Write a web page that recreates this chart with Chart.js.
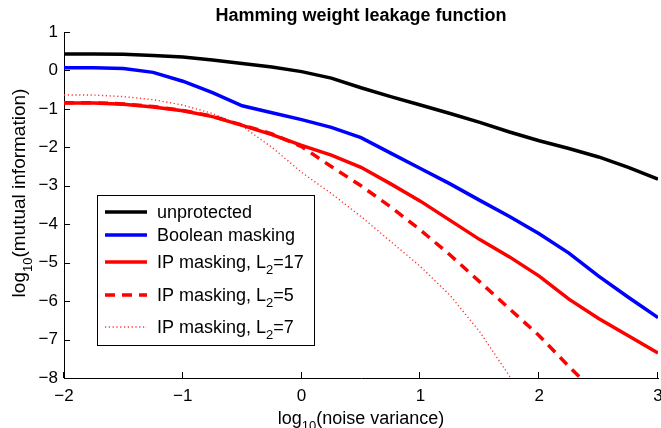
<!DOCTYPE html>
<html>
<head>
<meta charset="utf-8">
<script src="https://cdn.jsdelivr.net/npm/chart.js@4.4.1/dist/chart.umd.min.js"></script>
<style>
  html, body { margin: 0; padding: 0; background: #fff; }
  #wrap { width: 661px; height: 428px; }
</style>
</head>
<body>
<div id="wrap"><canvas id="chart" width="661" height="428"></canvas></div>
<script>
// log10(noise variance)
const noiseLog = [-2, -1.75, -1.5, -1.25, -1, -0.75, -0.5, -0.25, 0, 0.25, 0.5, 0.75, 1, 1.25, 1.5, 1.75, 2, 2.25, 2.5, 2.75, 3];

// log10(mutual information) per scheme
const unprotected = [0.43, 0.43, 0.42, 0.39, 0.35, 0.27, 0.18, 0.09, -0.03, -0.2, -0.45, -0.68, -0.9, -1.12, -1.35, -1.6, -1.83, -2.03, -2.25, -2.52, -2.83];
const booleanMasking = [0.07, 0.07, 0.05, -0.05, -0.28, -0.58, -0.92, -1.1, -1.28, -1.48, -1.75, -2.15, -2.55, -2.95, -3.38, -3.8, -4.25, -4.75, -5.35, -5.9, -6.43];
const ipL17 = [-0.85, -0.85, -0.88, -0.95, -1.05, -1.2, -1.43, -1.67, -1.95, -2.2, -2.52, -2.95, -3.4, -3.9, -4.4, -4.85, -5.35, -5.95, -6.45, -6.9, -7.35];
const ipL5 = [-0.84, -0.84, -0.87, -0.94, -1.04, -1.19, -1.42, -1.65, -1.98, -2.5, -3.0, -3.55, -4.15, -4.8, -5.5, -6.2, -6.9, -7.7, -8.45];
const ipL7 = [-0.64, -0.64, -0.68, -0.76, -0.9, -1.12, -1.45, -2.0, -2.65, -3.2, -3.8, -4.45, -5.1, -5.85, -6.8, -7.95, -9.0];

const xTicks = [-2, -1, 0, 1, 2, 3];
const yTicks = [1, 0, -1, -2, -3, -4, -5, -6, -7, -8];

// legend labels: [text, subscript?] parts
const legendLabels = [
  [["unprotected", false]],
  [["Boolean masking", false]],
  [["IP masking, L", false], ["2", true], ["=17", false]],
  [["IP masking, L", false], ["2", true], ["=5", false]],
  [["IP masking, L", false], ["2", true], ["=7", false]]
];

const FONT = '"Liberation Sans", Arial, Helvetica, sans-serif';
const minus = v => String(v).replace("-", "\u2212");
const pts = arr => arr.map((v, i) => ({ x: noiseLog[i], y: v }));

function richWidth(ctx, parts, size) {
  let w = 0;
  parts.forEach(([t, sub]) => {
    ctx.font = (sub ? Math.round(size * 0.7) : size) + "px " + FONT;
    w += ctx.measureText(t).width;
  });
  return w;
}

function drawRich(ctx, parts, x, y, size) {
  ctx.textBaseline = "alphabetic";
  ctx.textAlign = "left";
  parts.forEach(([t, sub]) => {
    ctx.font = (sub ? Math.round(size * 0.7) : size) + "px " + FONT;
    ctx.fillText(t, x, sub ? y + size * 0.35 : y);
    x += ctx.measureText(t).width;
  });
}

const decorations = {
  id: "decorations",
  afterDraw(chart) {
    const ctx = chart.ctx;
    const a = chart.chartArea;
    const xs = chart.scales.x, ys = chart.scales.y;
    ctx.save();
    ctx.fillStyle = "#000";
    ctx.strokeStyle = "#000";
    ctx.lineWidth = 1;

    // inward tick marks
    ctx.beginPath();
    yTicks.forEach(v => {
      const py = Math.round(ys.getPixelForValue(v)) + 0.5;
      ctx.moveTo(a.left, py); ctx.lineTo(a.left + 6, py);
    });
    xTicks.forEach(v => {
      const px = Math.round(xs.getPixelForValue(v)) - 0.5;
      ctx.moveTo(px, a.bottom); ctx.lineTo(px, a.bottom - 6);
    });
    ctx.stroke();

    // title
    ctx.font = "bold 18px " + FONT;
    ctx.textAlign = "center";
    ctx.textBaseline = "middle";
    ctx.fillText("Hamming weight leakage function", (a.left + a.right) / 2, 16);

    // axis titles with subscript
    const xt = [["log", false], ["10", true], ["(noise variance)", false]];
    const yt = [["log", false], ["10", true], ["(mutual information)", false]];
    let w = richWidth(ctx, xt, 18);
    drawRich(ctx, xt, (a.left + a.right) / 2 - w / 2, 424, 18);
    w = richWidth(ctx, yt, 19);
    ctx.save();
    ctx.translate(25, 193);
    ctx.rotate(-Math.PI / 2);
    drawRich(ctx, yt, -w / 2, 0, 19);
    ctx.restore();

    // legend box
    const box = { x: 97, y: 195, w: 217, h: 150 };
    ctx.fillStyle = "#fff";
    ctx.fillRect(box.x, box.y, box.w, box.h);
    ctx.strokeRect(box.x + 0.5, box.y + 0.5, box.w, box.h);
    const rows = [212, 235, 262, 295, 327];
    chart.data.datasets.forEach((ds, i) => {
      const yy = rows[i];
      ctx.save();
      ctx.strokeStyle = ds.borderColor;
      ctx.lineWidth = ds.borderWidth;
      ctx.setLineDash(ds.borderDash || []);
      ctx.beginPath();
      ctx.moveTo(105, yy); ctx.lineTo(147, yy);
      ctx.stroke();
      ctx.restore();
      ctx.fillStyle = "#000";
      drawRich(ctx, legendLabels[i], 157, yy + 6, 18);
    });
    ctx.restore();
  }
};

const lineDs = (label, data, color, width, dash) => ({
  label, data: pts(data), borderColor: color, borderWidth: width,
  borderDash: dash, pointRadius: 0, tension: 0, fill: false
});

new Chart(document.getElementById("chart").getContext("2d"), {
  type: "line",
  data: {
    datasets: [
      lineDs("unprotected", unprotected, "#000000", 3.5, []),
      lineDs("Boolean masking", booleanMasking, "#0000ff", 3.5, []),
      lineDs("IP masking, L2=17", ipL17, "#ff0000", 3.5, []),
      lineDs("IP masking, L2=5", ipL5, "#ff0000", 3.5, [10, 7]),
      lineDs("IP masking, L2=7", ipL7, "#ff3030", 1.4, [1.2, 2.6])
    ]
  },
  options: {
    responsive: false,
    animation: false,
    devicePixelRatio: 1,
    layout: { padding: { top: 32, right: 3, left: 0, bottom: 0 }, autoPadding: false },
    plugins: { legend: { display: false }, tooltip: { enabled: false }, title: { display: false } },
    scales: {
      x: {
        type: "linear", min: -2, max: 3,
        afterFit: s => { s.height = 50; s.paddingLeft = 0; s.paddingRight = 0; },
        afterBuildTicks: s => { s.ticks = xTicks.map(v => ({ value: v })); },
        grid: { display: false, drawTicks: false },
        border: { display: true, color: "#000", width: 1 },
        ticks: { padding: 8, color: "#000", font: { family: FONT, size: 17 }, callback: v => minus(v) }
      },
      y: {
        type: "linear", min: -8, max: 1,
        afterFit: s => { s.width = 64; s.paddingTop = 0; s.paddingBottom = 0; },
        afterBuildTicks: s => { s.ticks = yTicks.map(v => ({ value: v })); },
        grid: { display: false, drawTicks: false },
        border: { display: true, color: "#000", width: 1 },
        ticks: { padding: 6, color: "#000", font: { family: FONT, size: 17 }, callback: v => minus(v) }
      }
    }
  },
  plugins: [decorations]
});
</script>
</body>
</html>
